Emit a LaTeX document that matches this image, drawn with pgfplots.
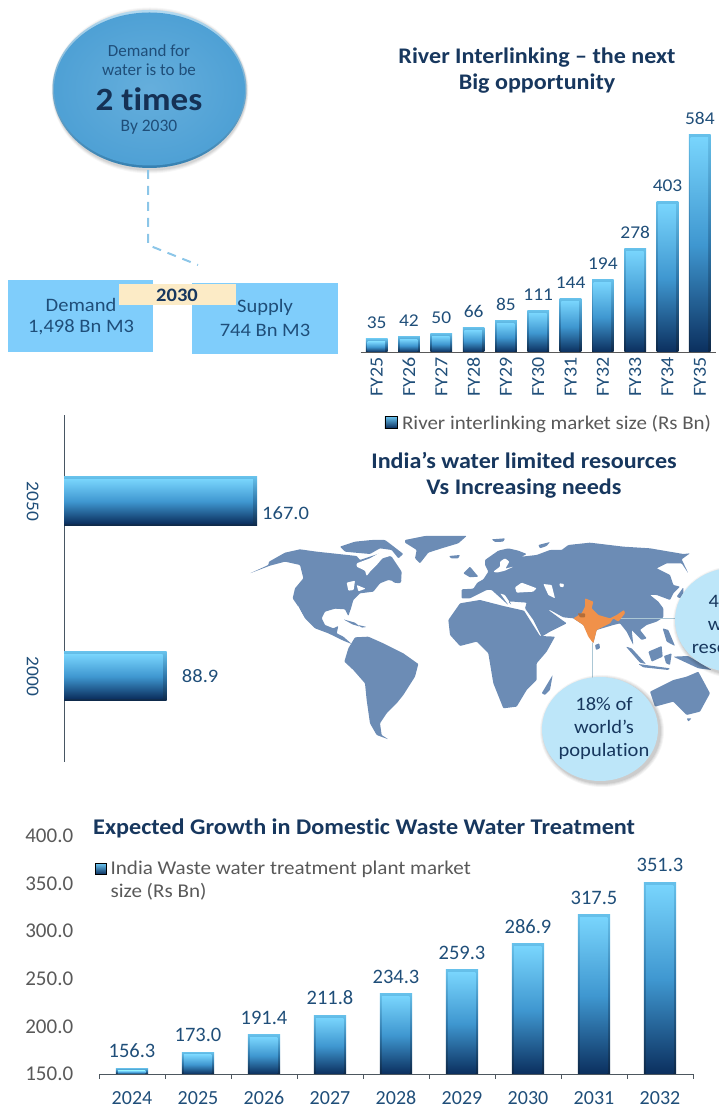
\documentclass[border=0pt]{standalone}
\usepackage{fontspec}
\usepackage{pgfplots}
\pgfplotsset{compat=1.18}
\setmainfont{Carlito}[Ligatures=NoCommon]
\newfontfamily\widefont[FakeStretch=1.08,Ligatures=NoCommon]{Carlito}
\definecolor{navy}{HTML}{17375E}
\definecolor{midnavy}{HTML}{1F4E79}
\definecolor{greytxt}{HTML}{595959}
\definecolor{barTop}{HTML}{78D4FC}
\definecolor{barMid}{HTML}{3F97D0}
\definecolor{barBot}{HTML}{0B2F5E}
\definecolor{edgeTop}{HTML}{66C0EA}
\definecolor{edgeMid}{HTML}{2F77AA}
\definecolor{edgeBot}{HTML}{0D2747}
\definecolor{mapblue}{HTML}{6C8CB5}
\definecolor{boxblue}{HTML}{7FCDFB}
\definecolor{cream}{HTML}{FCEBC6}
\definecolor{callout}{HTML}{BDE6F9}
\definecolor{india}{HTML}{F0914A}
\definecolor{dashblue}{HTML}{8CC6E8}

\pgfplotsset{
  edgeshade/.style={draw=none, top color=edgeTop, bottom color=edgeBot, middle color=edgeMid},
  bodyshade/.style={draw=none, top color=barTop, bottom color=barBot, middle color=barMid},
  riverkey/.style={legend image code/.code={
    \path[top color=barTop!80!barMid, bottom color=barBot] (-5.5pt,-5pt) rectangle (7pt,7pt);
    \path (9.5pt,0pt);}},
  wastekey/.style={legend image code/.code={
    \path[top color=barTop!80!barMid, bottom color=barBot] (-6pt,6pt) rectangle (5pt,17pt);
    \path (7pt,0pt);}},
  riveredge/.style={ybar, forget plot, bar width=21.7pt, bar shift=0pt, edgeshade,
    nodes near coords={\pgfmathprintnumber[assume math mode=true]{\pgfplotspointmeta}},
    every node near coord/.append style={text=midnavy, inner sep=2pt, yshift=8pt, font=\widefont\fontsize{18}{20}\selectfont}},
  riverbody/.style={ybar, forget plot, bar width=17.5pt, bar shift=-0.4pt, bodyshade},
  wasteedge/.style={ybar, forget plot, bar width=32.3pt, bar shift=0pt, edgeshade,
    nodes near coords={\pgfmathprintnumber[assume math mode=true, fixed, fixed zerofill, precision=1]{\pgfplotspointmeta}},
    every node near coord/.append style={text=midnavy, inner sep=2pt, yshift=8pt, font=\fontsize{20.5}{23}\selectfont}},
  wastebody/.style={ybar, forget plot, bar width=27.5pt, bar shift=-0.4pt, bodyshade},
  horizedge/.style={xbar, forget plot, bar width=49pt, bar shift=0pt, edgeshade, point meta=x,
    nodes near coords={\pgfmathprintnumber[assume math mode=true, fixed, fixed zerofill, precision=1]{\pgfplotspointmeta}},
    every node near coord/.append style={text=midnavy, anchor=west, inner sep=2pt, font=\widefont\fontsize{19}{22}\selectfont}},
  horizbody/.style={xbar, forget plot, bar width=44.5pt, bar shift=0pt, bodyshade},
}

\begin{document}
\begin{tikzpicture}
\clip (0pt,0pt) rectangle (719pt,1108pt);

% ---- world map: the Americas' north and Greenland ----
\begin{scope}[x=0.33333pt,y=-0.33333pt,shift={(245pt,578pt)},rounded corners=0.8pt]
  \fill[mapblue] (15,130)--(70,105)--(72,95)--(120,68)--(165,58)--(215,65)--(280,72)--(335,78)--(345,90)--(405,70)--(440,80)--(470,125)--(468,158)--(430,150)--(405,160)--(385,185)--(345,190)--(325,210)--(318,235)--(310,258)--(300,238)--(270,236)--(240,245)--(230,265)--(240,285)--(265,295)--(280,288)--(275,310)--(295,320)--(320,342)--(295,332)--(250,310)--(210,295)--(180,265)--(160,230)--(143,205)--(150,175)--(175,145)--(165,105)--(120,95)--(75,107)--cycle;
  \fill[white] (335,100)--(375,85)--(410,65)--(438,62)--(445,75)--(412,85)--(395,105)--(375,125)--(365,138)--(360,122)--(335,110)--cycle;
  \fill[mapblue] (285,50)--(330,35)--(380,30)--(420,30)--(440,45)--(475,72)--(460,85)--(440,60)--(405,55)--(375,72)--(330,68)--(300,65)--cycle;
  \fill[white] (305,158)--(330,152)--(326,180)--(310,182)--cycle;
  \fill[white] (335,165)--(362,176)--(340,184)--cycle;
  \draw[white, line width=0.8pt] (158,228)--(178,268);
  \fill[mapblue] (440,152)--(470,148)--(465,160)--(448,158)--cycle;
  \fill[mapblue] (295,268)--(330,278)--(345,290)--(322,283)--cycle;
  \fill[mapblue] (340,285)--(365,291)--(350,293)--cycle;
  \fill[mapblue] (480,30)--(540,18)--(665,18)--(640,40)--(590,55)--(550,68)--(525,100)--(510,85)--(515,60)--(480,38)--cycle;
  \fill[mapblue] (612,78)--(645,75)--(640,85)--(618,85)--cycle;
\end{scope}

% ---- world map: Eurasia and India ----
\begin{scope}[x=0.33333pt,y=-0.33333pt,shift={(450pt,578pt)},rounded corners=0.8pt]
  \fill[mapblue] (35,205)--(35,178)--(70,176)--(82,158)--(100,148)--(115,125)--(105,105)--(105,90)--(145,62)--(175,55)--(205,62)--(230,72)--(215,80)--(260,75)--(300,60)--(335,60)--(355,45)--(420,38)--(520,50)--(600,55)--(700,72)--(720,70)--(695,88)--(715,130)--(695,100)--(650,100)--(620,115)--(660,135)--(670,165)--(690,170)--(670,190)--(660,210)--(620,195)--(600,195)--(625,215)--(640,235)--(640,262)--(620,275)--(590,285)--(570,300)--(590,325)--(575,330)--(545,300)--(550,345)--(530,305)--(510,280)--(490,285)--(440,300)--(430,340)--(400,285)--(370,265)--(340,262)--(300,240)--(295,240)--(325,262)--(350,280)--(300,305)--(275,320)--(250,270)--(225,235)--(230,218)--(190,215)--(175,215)--(185,225)--(165,195)--(150,190)--(175,225)--(125,180)--(110,180)--(80,195)--(60,205)--cycle;
  \fill[white] (130,125)--(150,110)--(150,95)--(165,85)--(178,95)--(166,116)--(190,110)--(165,122)--(140,128)--cycle;
  \fill[white] (195,172)--(215,158)--(260,175)--(250,185)--(200,188)--cycle;
  \fill[white] (280,162)--(305,165)--(315,205)--(295,195)--cycle;
  \fill[white] (328,160)--(342,162)--(340,172)--(330,170)--cycle;
  \fill[mapblue] (40,130)--(60,110)--(85,140)--(60,142)--cycle;
  \fill[mapblue] (125,28)--(165,25)--(160,35)--(135,36)--cycle;
  \fill[mapblue] (265,45)--(300,36)--(290,48)--(270,55)--cycle;
  \fill[mapblue] (680,200)--(700,172)--(700,190)--(690,205)--cycle;
  % leader lines and India
  \draw[callout!70!gray, line width=1.5pt] (428,338)--(428,445);
  \draw[callout!70!gray, line width=1.5pt] (450,265)--(680,265);
  \fill[india] (405,205)--(430,215)--(425,235)--(445,255)--(480,265)--(500,255)--(522,240)--(525,250)--(505,275)--(490,265)--(480,280)--(440,300)--(430,340)--(415,320)--(400,285)--(370,265)--(395,250)--(405,230)--cycle;
  \fill[india!75!black] (383,250)--(405,250)--(405,262)--(390,262)--cycle;
\end{scope}

% ---- world map: the southern continents ----
\begin{scope}[x=0.33333pt,y=-0.33333pt,shift={(240pt,588pt)},rounded corners=0.8pt]
  \fill[mapblue]
    (345,352)--(385,350)--(430,370)--(490,400)--(535,432)--(525,470)--(490,525)--(470,550)--(440,580)--(420,610)--(425,645)--(445,658)--(410,645)--(390,610)--(380,540)--(375,490)--(340,450)--(313,425)--(325,385)--cycle;
  \fill[mapblue]
    (625,300)--(660,250)--(720,240)--(790,258)--(852,272)--(900,348)--(945,350)--(920,395)--(890,430)--(890,480)--(860,510)--(830,560)--(790,565)--(760,490)--(745,400)--(710,365)--(660,378)--(630,345)--cycle;
  \fill[mapblue] (905,520)--(938,465)--(930,510)--(915,525)--cycle;
  \fill[mapblue] (1065,375)--(1078,370)--(1080,385)--(1068,390)--cycle;
  \fill[mapblue]
    (1230,515)--(1300,480)--(1340,470)--(1375,455)--(1410,520)--(1380,575)--(1340,585)--(1300,545)--(1245,560)--cycle;
  \fill[mapblue] (1340,595)--(1355,595)--(1345,605)--cycle;
  \fill[mapblue] (1158,380)--(1175,385)--(1218,432)--(1200,428)--cycle;
  \fill[mapblue] (1195,432)--(1290,445)--(1285,450)--(1210,442)--cycle;
  \fill[mapblue] (1225,395)--(1265,378)--(1268,410)--(1235,425)--cycle;
  \fill[mapblue] (1272,408)--(1295,400)--(1290,435)--(1278,430)--cycle;
  \fill[mapblue] (1300,410)--(1345,408)--(1415,450)--(1375,445)--cycle;
  \fill[mapblue] (1268,325)--(1285,330)--(1305,378)--(1280,365)--cycle;
\end{scope}

% ---- call-out circles and the annotation group ----
\begin{scope}[x=1pt,y=-1pt,yshift=1108pt]
  \foreach \r/\o in {4/0.04,3/0.05,2/0.06,1/0.07}{
    \fill[black, opacity=\o] (602,731) ellipse[x radius=58+\r, y radius=52+\r];
    \fill[black, opacity=\o] (735,622) ellipse[x radius=58+\r, y radius=52+\r];
  }
  \fill[callout] (600,729) ellipse[x radius=58, y radius=52];
  \fill[callout] (733,620) ellipse[x radius=58, y radius=52];
  \node[navy, font=\widefont\fontsize{19}{23}\selectfont, align=center] at (604,729) {18\% of\\world’s\\population};
  \node[navy, font=\widefont\fontsize{19}{23}\selectfont, align=center] at (732,624) {4\% of\\water\\resources};

  % demand bubble
  \foreach \d/\o in {5/0.03,4/0.04,3/0.05,2/0.06}{
    \fill[black, opacity=\o] (150,90.5) ellipse[x radius=96+\d/2, y radius=78+\d];
  }
  \shade[top color=white!35!dashblue, bottom color=black!15!barMid] (149.5,89) ellipse[x radius=97, y radius=79];
  \shade[inner color=barMid!50!dashblue, outer color=barMid!80!dashblue] (149.5,89) ellipse[x radius=95.5, y radius=76.5];
  \node[midnavy, font=\fontsize{17}{20}\selectfont] at (149,51) {Demand for};
  \node[midnavy, font=\fontsize{17}{20}\selectfont] at (149,70) {water is to be};
  \node[navy!90!black, font=\widefont\fontsize{32.5}{36}\selectfont\bfseries] at (149,99) {2 times};
  \node[midnavy, font=\fontsize{17.5}{20}\selectfont] at (149,127) {By 2030};

  \draw[dashblue, line width=2pt, dash pattern=on 9pt off 7pt] (148,170)--(148,245)--(198,265);

  \fill[boxblue] (8,280) rectangle (153,352);
  \fill[boxblue] (192,283) rectangle (338,354);
  \fill[cream] (119,284) rectangle (236,305);
  \node[navy, font=\widefont\fontsize{19}{22}\selectfont\bfseries] at (177,295) {2030};
  \node[midnavy, font=\widefont\fontsize{19}{22}\selectfont] at (81,305) {Demand};
  \node[midnavy, font=\widefont\fontsize{19}{22}\selectfont] at (81,327) {1,498 Bn M3};
  \node[midnavy, font=\widefont\fontsize{19}{22}\selectfont] at (265,307) {Supply};
  \node[midnavy, font=\widefont\fontsize{19}{22}\selectfont] at (265,330) {744 Bn M3};

  % panel headings
  \node[navy, font=\widefont\fontsize{22.3}{26}\selectfont\bfseries, align=center] at (537,71) {River Interlinking – the next\\Big opportunity};
  \node[navy, font=\widefont\fontsize{22.3}{26}\selectfont\bfseries, align=center] at (524,475) {India’s water limited resources\\Vs Increasing needs};
  \node[navy, font=\widefont\fontsize{22.4}{25}\selectfont\bfseries, anchor=west, inner sep=0pt] at (93,828) {Expected Growth in Domestic Waste Water Treatment};
\end{scope}

% ---- river interlinking market size ----
\begin{axis}[
  at={(360.5pt,756pt)}, anchor=south west,
  scale only axis, width=355.5pt, height=217.5pt,
  xmin=-0.5, xmax=10.5, ymin=0, ymax=584,
  clip=false,
  axis lines*=left,
  axis line style={-},
  x axis line style={draw=greytxt, line width=0.8pt},
  y axis line style={draw=none},
  ytick=\empty,
  xtick={0,...,10},
  xticklabels={FY25,FY26,FY27,FY28,FY29,FY30,FY31,FY32,FY33,FY34,FY35},
  xtick style={draw=none},
  xticklabel style={rotate=90, anchor=east, xshift=-2pt, text=midnavy, font=\widefont\fontsize{18.5}{20}\selectfont},
  legend style={at={(24pt,-61pt)}, anchor=north west, draw=none, fill=none, inner sep=0pt, text=greytxt,
    font=\widefont\fontsize{19.4}{22}\selectfont, legend cell align=left},
]
\addlegendimage{riverkey}
\addlegendentry{River interlinking market size (Rs Bn)}
\pgfplotsforeachungrouped \i/\v in {0/35,1/42,2/50,3/66,4/85,5/111,6/144,7/194,8/278,9/403,10/584}{
  \pgfmathsetmacro\b{\v-8}
  \edef\drawbar{\noexpand\addplot[riveredge] coordinates {(\i,\v)};
                \noexpand\addplot[riverbody] coordinates {(\i,\b)};}
  \drawbar
}
\end{axis}

% ---- horizontal comparison 2000 / 2050 ----
\begin{axis}[
  at={(64pt,346pt)}, anchor=south west,
  scale only axis, width=193pt, height=347pt,
  xmin=0, xmax=167, ymin=-0.4886, ymax=1.494,
  clip=false,
  axis lines*=left,
  axis line style={-},
  y axis line style={draw=greytxt!70!midnavy, line width=0.9pt},
  x axis line style={draw=none},
  xtick=\empty,
  ytick={0,1}, yticklabels={2000,2050},
  ytick style={draw=none},
  yticklabel style={rotate=-90, anchor=north, yshift=-22pt, text=midnavy, font=\widefont\fontsize{18}{20}\selectfont},
]
\addplot[horizedge, every node near coord/.append style={xshift=3pt, yshift=-12pt}]
  coordinates {(167.0,1)};
\addplot[horizbody] coordinates {(163.5,1)};
\addplot[horizedge, every node near coord/.append style={xshift=13pt}]
  coordinates {(88.9,0)};
\addplot[horizbody] coordinates {(85.4,0)};
\end{axis}

% ---- waste water treatment plant market ----
\begin{axis}[
  at={(99pt,34pt)}, anchor=south west,
  scale only axis, width=594pt, height=238pt,
  xmin=-0.5, xmax=8.5, ymin=150, ymax=400,
  clip=false,
  axis lines*=left,
  axis line style={-},
  x axis line style={draw=greytxt!80!midnavy, line width=0.8pt},
  y axis line style={draw=none},
  ytick={150,200,...,400},
  ytick style={draw=none},
  yticklabel style={text=greytxt, font=\fontsize{21}{24}\selectfont, /pgf/number format/fixed, /pgf/number format/fixed zerofill, /pgf/number format/precision=1, /pgf/number format/assume math mode=true, xshift=-18pt},
  xtick={0,...,8},
  xticklabels={2024,2025,2026,2027,2028,2029,2030,2031,2032},
  xtick style={draw=none},
  minor xtick={-0.5,0.5,...,8.5},
  minor tick length=5pt,
  minor x tick style={draw=greytxt!80!midnavy, line width=0.7pt},
  tick align=outside,
  xticklabel style={text=midnavy, yshift=-9pt, text height=14pt, text depth=0pt, font=\fontsize{20}{23}\selectfont},
  legend style={at={(-4pt,215pt)}, anchor=north west, draw=none, fill=none, inner sep=0pt, text=greytxt,
    font=\widefont\fontsize{19.5}{23}\selectfont, legend cell align=left, nodes={align=left}},
]
\addlegendimage{wastekey}
\addlegendentry{India Waste water treatment plant market\\size (Rs Bn)}
\pgfplotsforeachungrouped \i/\v in {0/156.3,1/173.0,2/191.4,3/211.8,4/234.3,5/259.3,6/286.9,7/317.5,8/351.3}{
  \pgfmathsetmacro\b{\v-3}
  \edef\drawbar{\noexpand\addplot[wasteedge] coordinates {(\i,\v)};
                \noexpand\addplot[wastebody] coordinates {(\i,\b)};}
  \drawbar
}
\end{axis}
\end{tikzpicture}
\end{document}
